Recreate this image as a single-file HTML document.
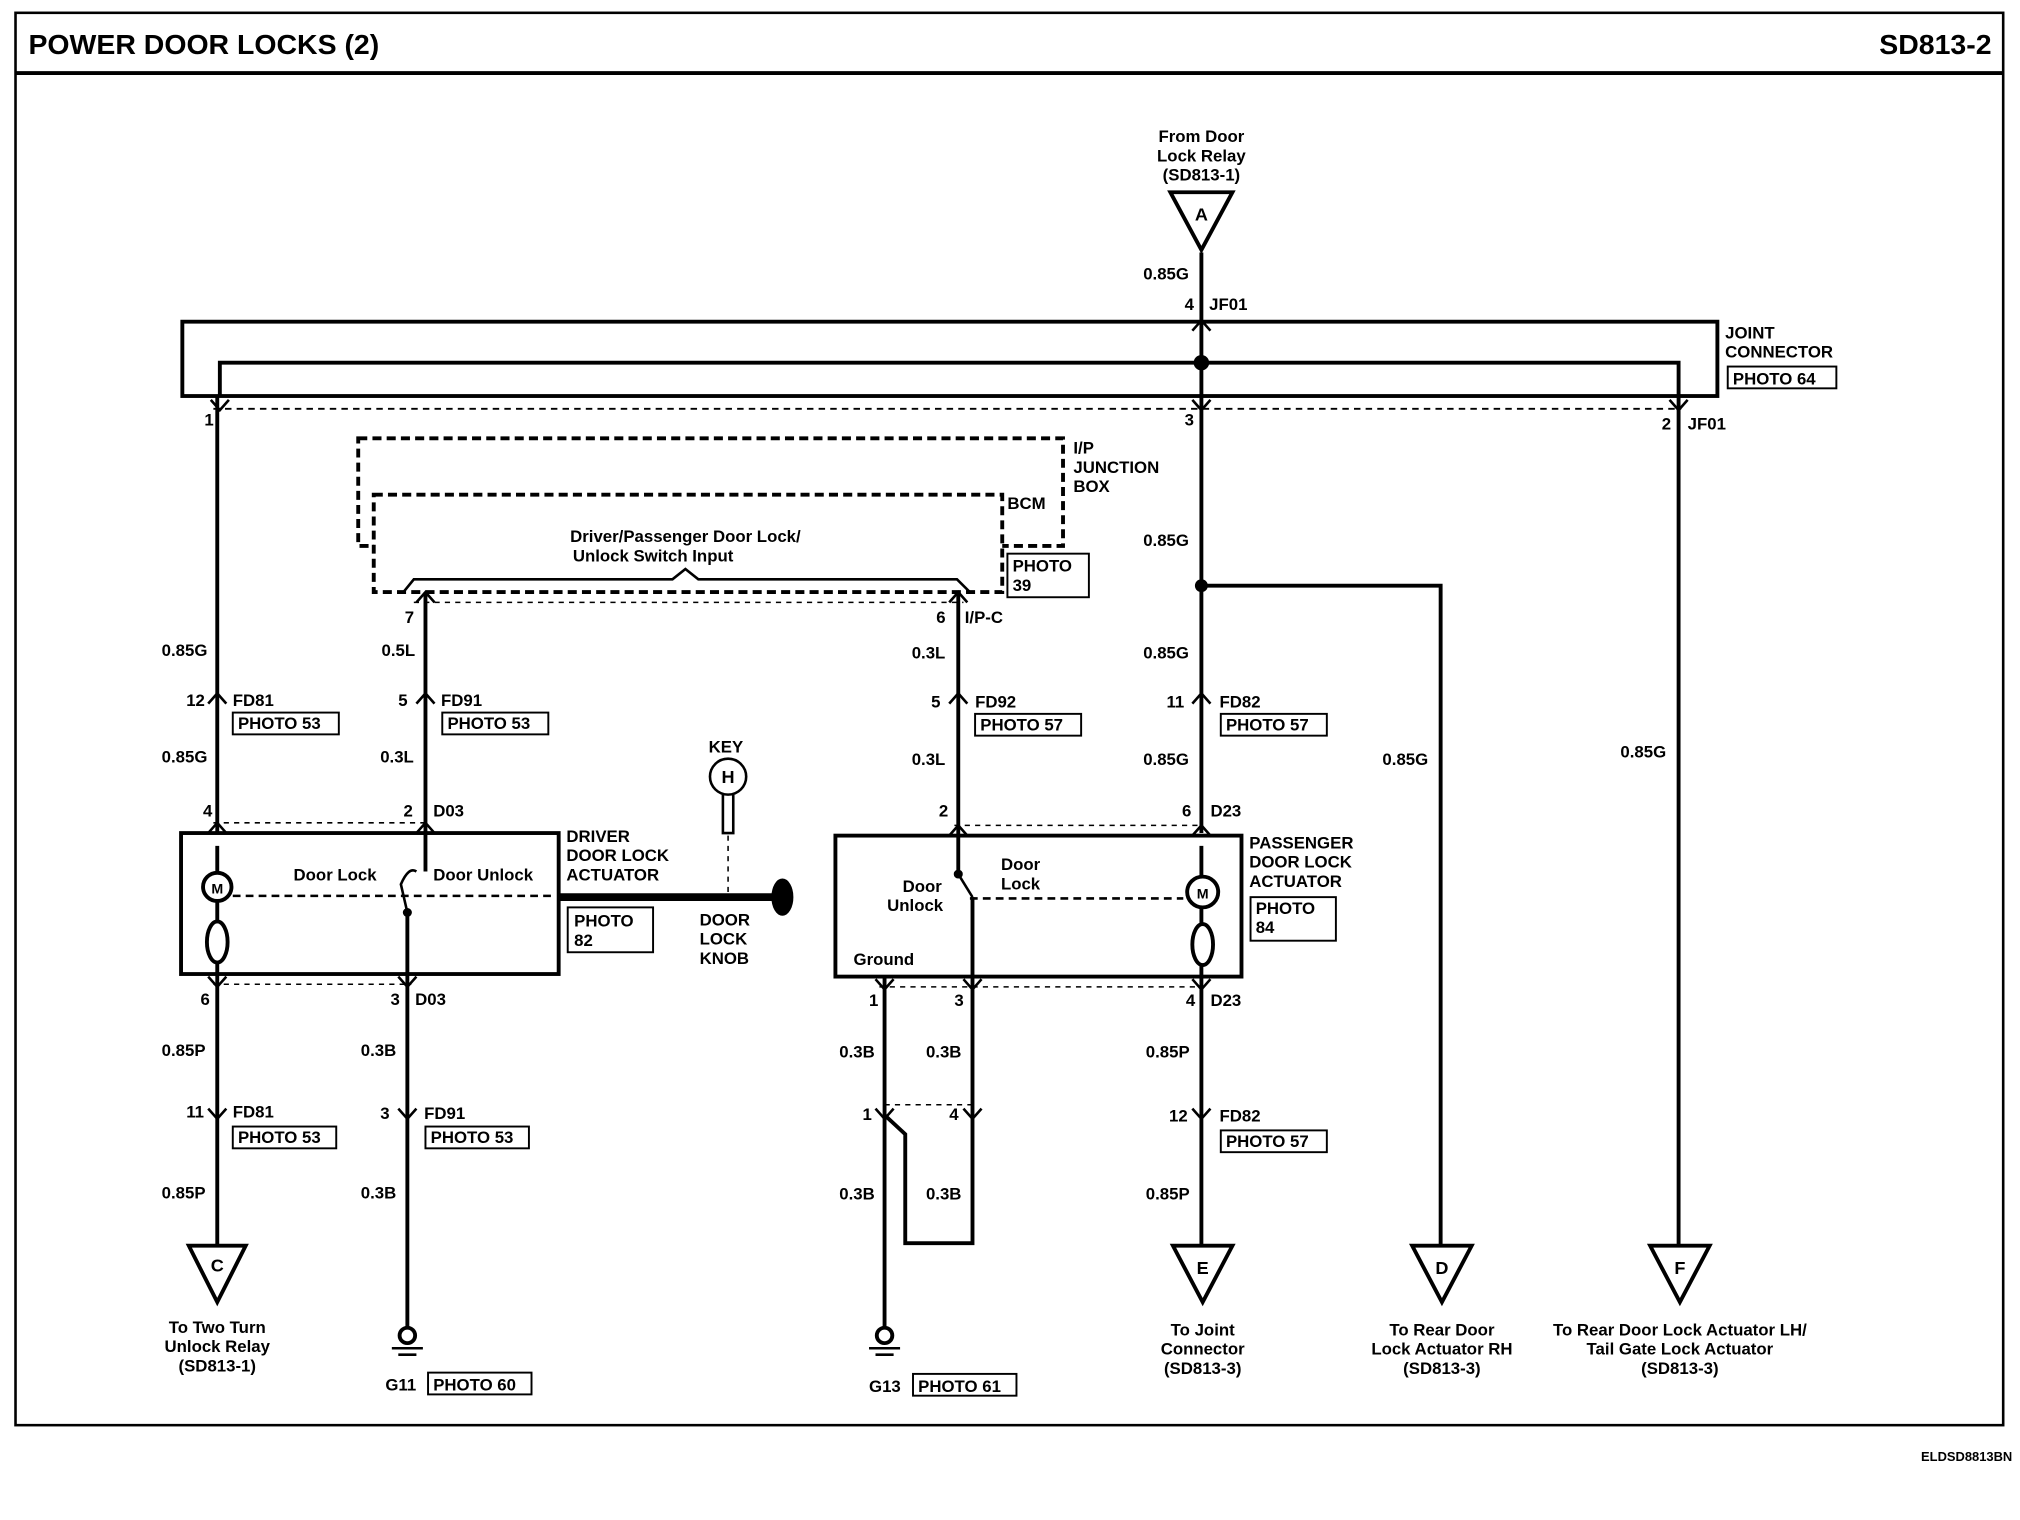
<!DOCTYPE html>
<html><head><meta charset="utf-8"><style>
html,body{margin:0;padding:0;background:#fff;}
svg{display:block;}
text{font-family:"Liberation Sans",sans-serif;font-weight:bold;fill:#000;}
</style></head><body>
<svg width="2020" height="1520" viewBox="0 0 1562 1186" preserveAspectRatio="none" xmlns="http://www.w3.org/2000/svg">
<g fill="none" stroke="#000">
<rect x="12" y="10" width="1537" height="1102" stroke-width="2"/>
<line x1="12" y1="57" x2="1549" y2="57" stroke-width="3"/>
<!-- joint connector -->
<rect x="141" y="251" width="1187" height="58" stroke-width="3"/>
<polyline points="170,309 170,283 1298,283 1298,309" stroke-width="3"/>
<line x1="929" y1="197" x2="929" y2="650" stroke-width="3"/>
<line x1="165" y1="319" x2="1300" y2="319" stroke-width="1.5" stroke-dasharray="5,4"/>
<!-- triangles -->
<polygon points="905,150 953,150 929,195" stroke-width="3"/>
<polygon points="146,972 190,972 168,1016" stroke-width="3"/>
<polygon points="907,972 953,972 930,1016" stroke-width="3"/>
<polygon points="1092,972 1138,972 1115,1016" stroke-width="3"/>
<polygon points="1276,972 1322,972 1299,1016" stroke-width="3"/>
<!-- wires -->
<line x1="168" y1="309" x2="168" y2="650" stroke-width="3"/>
<line x1="168" y1="760" x2="168" y2="972" stroke-width="3"/>
<line x1="329" y1="462" x2="329" y2="650" stroke-width="3"/>
<line x1="315" y1="712" x2="315" y2="1036" stroke-width="3"/>
<line x1="741" y1="462" x2="741" y2="652" stroke-width="3"/>
<line x1="684" y1="762" x2="684" y2="1036" stroke-width="3"/>
<polyline points="752,700 752,970 700,970 700,885 684,870" stroke-width="3"/>
<line x1="929" y1="762" x2="929" y2="972" stroke-width="3"/>
<polyline points="929,457 1114,457 1114,972" stroke-width="3"/>
<line x1="1298" y1="309" x2="1298" y2="972" stroke-width="3"/>
<!-- junction box dashed -->
<rect x="277" y="342" width="545" height="84" stroke-width="3" stroke-dasharray="7,4"/>
<rect x="289" y="386" width="486" height="76" stroke-width="3" stroke-dasharray="7,4" fill="#fff"/>
<rect x="779" y="432" width="63" height="34" stroke-width="1.5"/>
<path d="M312,462 L320,452 L520,452 L530,444 L540,452 L740,452 L750,462" stroke-width="2"/>
<line x1="320" y1="470" x2="745" y2="470" stroke-width="1.2" stroke-dasharray="4,4"/>
<!-- actuator boxes -->
<rect x="140" y="650" width="292" height="110" stroke-width="3"/>
<rect x="646" y="652" width="314" height="110" stroke-width="3"/>
<line x1="165" y1="642" x2="330" y2="642" stroke-width="1.2" stroke-dasharray="4,4"/>
<line x1="165" y1="768" x2="318" y2="768" stroke-width="1.2" stroke-dasharray="4,4"/>
<line x1="738" y1="644" x2="930" y2="644" stroke-width="1.2" stroke-dasharray="4,4"/>
<line x1="680" y1="770" x2="930" y2="770" stroke-width="1.2" stroke-dasharray="4,4"/>
<line x1="684" y1="862" x2="752" y2="862" stroke-width="1.2" stroke-dasharray="4,4"/>
<line x1="180" y1="699" x2="430" y2="699" stroke-width="2" stroke-dasharray="6,4"/>
<line x1="750" y1="701" x2="915" y2="701" stroke-width="2" stroke-dasharray="6,4"/>
<!-- motors -->
<line x1="168" y1="660" x2="168" y2="760" stroke-width="3"/>
<circle cx="168" cy="692" r="11" stroke-width="3" fill="#fff"/>
<ellipse cx="168" cy="735" rx="8" ry="16" stroke-width="3" fill="#fff"/>
<line x1="929" y1="660" x2="929" y2="762" stroke-width="3"/>
<circle cx="930" cy="696" r="12" stroke-width="3" fill="#fff"/>
<ellipse cx="930" cy="737" rx="8" ry="16" stroke-width="3" fill="#fff"/>
<!-- switches -->
<line x1="329" y1="650" x2="329" y2="680" stroke-width="3"/>
<path d="M315,712 L310,690 Q316,676 322,680" stroke-width="2"/>
<circle cx="315" cy="712" r="3" fill="#000"/>
<line x1="741" y1="652" x2="741" y2="680" stroke-width="3"/>
<path d="M741,682 L752,700" stroke-width="2"/>
<circle cx="741" cy="682" r="3" fill="#000"/>
<!-- knob & key -->
<line x1="432" y1="700" x2="600" y2="700" stroke-width="6"/>
<ellipse cx="605" cy="700" rx="8" ry="14" fill="#000"/>
<circle cx="563" cy="606" r="14" stroke-width="2"/>
<path d="M559,620 L559,650 L567,650 L567,620" stroke-width="2"/>
<line x1="563" y1="652" x2="563" y2="700" stroke-width="1.2" stroke-dasharray="4,4"/>
<!-- grounds -->
<circle cx="315" cy="1042" r="6" stroke-width="3"/>
<line x1="303" y1="1052" x2="327" y2="1052" stroke-width="2"/><line x1="308" y1="1057" x2="322" y2="1057" stroke-width="2"/>
<circle cx="684" cy="1042" r="6" stroke-width="3"/>
<line x1="672" y1="1052" x2="696" y2="1052" stroke-width="2"/><line x1="677" y1="1057" x2="691" y2="1057" stroke-width="2"/>
<!-- connector chevrons -->
<g stroke-width="2">
<path d="M161,549 L168,541 L175,549"/><path d="M322,549 L329,541 L336,549"/><path d="M734,549 L741,541 L748,549"/><path d="M922,549 L929,541 L936,549"/>
<path d="M161,865 L168,873 L175,865"/><path d="M308,865 L315,873 L322,865"/><path d="M677,865 L684,873 L691,865"/><path d="M745,865 L752,873 L759,865"/><path d="M922,865 L929,873 L936,865"/>
<path d="M161,650 L168,642 L175,650"/><path d="M322,650 L329,642 L336,650"/><path d="M734,652 L741,644 L748,652"/><path d="M922,652 L929,644 L936,652"/>
<path d="M161,762 L168,770 L175,762"/><path d="M308,762 L315,770 L322,762"/><path d="M677,764 L684,772 L691,764"/><path d="M745,764 L752,772 L759,764"/><path d="M922,764 L929,772 L936,764"/>
<path d="M163,312 L170,320 L177,312"/><path d="M922,312 L929,320 L936,312"/><path d="M1291,312 L1298,320 L1305,312"/><path d="M922,258 L929,250 L936,258"/>
<path d="M322,470 L329,462 L336,470"/><path d="M734,470 L741,462 L748,470"/>
</g>
<!-- photo boxes -->
<g stroke-width="1.5">
<rect x="1336" y="286" width="84" height="17"/>
<rect x="180" y="556" width="82" height="17"/><rect x="342" y="556" width="82" height="17"/>
<rect x="754" y="557" width="82" height="17"/><rect x="944" y="557" width="82" height="17"/>
<rect x="180" y="879" width="80" height="17"/><rect x="329" y="879" width="80" height="17"/><rect x="944" y="882" width="82" height="17"/>
<rect x="439" y="708" width="66" height="35"/><rect x="967" y="700" width="66" height="34"/>
<rect x="331" y="1071" width="80" height="17"/><rect x="706" y="1072" width="80" height="17"/>
</g>
</g>
<circle cx="929" cy="283" r="6" fill="#000"/>
<circle cx="929" cy="457" r="5" fill="#000"/>
<g font-size="22"><text x="22" y="42">POWER DOOR LOCKS (2)</text><text x="1540" y="42" text-anchor="end">SD813-2</text></g>
<g font-size="13" text-anchor="middle" font-weight="normal">
<text x="929" y="111">From Door</text><text x="929" y="126">Lock Relay</text><text x="929" y="141">(SD813-1)</text>
<text x="168" y="1040">To Two Turn</text><text x="168" y="1055">Unlock Relay</text><text x="168" y="1070">(SD813-1)</text>
<text x="930" y="1042">To Joint</text><text x="930" y="1057">Connector</text><text x="930" y="1072">(SD813-3)</text>
<text x="1115" y="1042">To Rear Door</text><text x="1115" y="1057">Lock Actuator RH</text><text x="1115" y="1072">(SD813-3)</text>
<text x="1299" y="1042">To Rear Door Lock Actuator LH/</text><text x="1299" y="1057">Tail Gate Lock Actuator</text><text x="1299" y="1072">(SD813-3)</text>
</g>
<g font-size="14" text-anchor="middle"><text x="929" y="172">A</text><text x="168" y="992">C</text><text x="930" y="994">E</text><text x="1115" y="994">D</text><text x="1299" y="994">F</text><text x="563" y="611">H</text><text x="168" y="697" font-size="11">M</text><text x="930" y="701" font-size="11">M</text></g>
<g font-size="13">
<text x="884" y="218">0.85G</text><text x="916" y="242">4</text><text x="935" y="242">JF01</text>
<text x="1334" y="264">JOINT</text><text x="1334" y="279">CONNECTOR</text><text x="1340" y="300">PHOTO 64</text>
<text x="158" y="332">1</text><text x="916" y="332">3</text><text x="1285" y="335">2</text><text x="1305" y="335">JF01</text>
<text x="830" y="354">I/P</text><text x="830" y="369">JUNCTION</text><text x="830" y="384">BOX</text>
<text x="779" y="397">BCM</text><text x="783" y="446">PHOTO</text><text x="783" y="461">39</text>
<text x="530" y="423" text-anchor="middle">Driver/Passenger Door Lock/</text><text x="505" y="438" text-anchor="middle">Unlock Switch Input</text>
<text x="884" y="426">0.85G</text>
<text x="313" y="486">7</text><text x="724" y="486">6</text><text x="746" y="486">I/P-C</text>
<text x="125" y="512">0.85G</text><text x="295" y="512">0.5L</text><text x="705" y="514">0.3L</text><text x="884" y="514">0.85G</text>
<text x="144" y="551">12</text><text x="180" y="551">FD81</text><text x="308" y="551">5</text><text x="341" y="551">FD91</text>
<text x="720" y="552">5</text><text x="754" y="552">FD92</text><text x="902" y="552">11</text><text x="943" y="552">FD82</text>
<text x="184" y="569">PHOTO 53</text><text x="346" y="569">PHOTO 53</text><text x="758" y="570">PHOTO 57</text><text x="948" y="570">PHOTO 57</text>
<text x="125" y="595">0.85G</text><text x="294" y="595">0.3L</text><text x="705" y="597">0.3L</text><text x="884" y="597">0.85G</text>
<text x="1069" y="597">0.85G</text><text x="1253" y="591">0.85G</text>
<text x="548" y="587">KEY</text>
<text x="157" y="637">4</text><text x="312" y="637">2</text><text x="335" y="637">D03</text><text x="726" y="637">2</text><text x="914" y="637">6</text><text x="936" y="637">D23</text>
<text x="438" y="657">DRIVER</text><text x="438" y="672">DOOR LOCK</text><text x="438" y="687">ACTUATOR</text>
<text x="966" y="662">PASSENGER</text><text x="966" y="677">DOOR LOCK</text><text x="966" y="692">ACTUATOR</text>
<text x="227" y="687">Door Lock</text><text x="335" y="687">Door Unlock</text>
<text x="774" y="679">Door</text><text x="774" y="694">Lock</text><text x="698" y="696">Door</text><text x="686" y="711">Unlock</text>
<text x="660" y="753">Ground</text>
<text x="444" y="723">PHOTO</text><text x="444" y="738">82</text><text x="971" y="713">PHOTO</text><text x="971" y="728">84</text>
<text x="541" y="722">DOOR</text><text x="541" y="737">LOCK</text><text x="541" y="752">KNOB</text>
<text x="155" y="784">6</text><text x="302" y="784">3</text><text x="321" y="784">D03</text><text x="672" y="785">1</text><text x="738" y="785">3</text><text x="917" y="785">4</text><text x="936" y="785">D23</text>
<text x="125" y="824">0.85P</text><text x="279" y="824">0.3B</text><text x="649" y="825">0.3B</text><text x="716" y="825">0.3B</text><text x="886" y="825">0.85P</text>
<text x="144" y="872">11</text><text x="180" y="872">FD81</text><text x="294" y="873">3</text><text x="328" y="873">FD91</text><text x="667" y="874">1</text><text x="734" y="874">4</text><text x="904" y="875">12</text><text x="943" y="875">FD82</text>
<text x="184" y="892">PHOTO 53</text><text x="333" y="892">PHOTO 53</text><text x="948" y="895">PHOTO 57</text>
<text x="125" y="935">0.85P</text><text x="279" y="935">0.3B</text><text x="649" y="936">0.3B</text><text x="716" y="936">0.3B</text><text x="886" y="936">0.85P</text>
<text x="298" y="1085">G11</text><text x="335" y="1085">PHOTO 60</text><text x="672" y="1086">G13</text><text x="710" y="1086">PHOTO 61</text>
<text x="1556" y="1140" text-anchor="end" font-size="10">ELDSD8813BN</text>
</g>
</svg>
</body></html>
